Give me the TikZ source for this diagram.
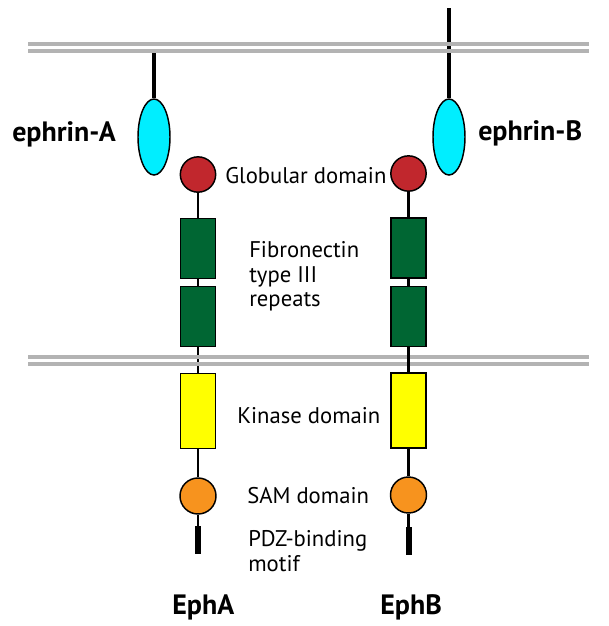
\documentclass[tikz,border=0pt]{standalone}
\usepackage{fontspec}
\setmainfont{PT Sans}
\usetikzlibrary{shapes.geometric}
\definecolor{memgray}{RGB}{179,179,179}
\definecolor{ephcyan}{RGB}{0,238,255}
\definecolor{globred}{RGB}{193,39,45}
\definecolor{fngreen}{RGB}{0,102,51}
\definecolor{kinyellow}{RGB}{255,255,0}
\definecolor{samorange}{RGB}{247,147,30}
\tikzset{
  shapeline/.style={draw=black, line width=1.1pt},
  ephrinshape/.style={shapeline, ellipse, fill=ephcyan, minimum width=24pt, minimum height=57pt, inner sep=0pt},
  globshape/.style={shapeline, circle, fill=globred, minimum size=26.5pt, inner sep=0pt},
  fnbox/.style={shapeline, rectangle, fill=fngreen, minimum width=26.25pt, minimum height=45pt, inner sep=0pt},
  kinbox/.style={shapeline, rectangle, fill=kinyellow, minimum width=26.25pt, minimum height=56.25pt, inner sep=0pt},
  samshape/.style={shapeline, circle, fill=samorange, minimum size=27pt, inner sep=0pt},
  pdzbar/.style={rectangle, fill=black, minimum width=4.5pt, minimum height=21pt, inner sep=0pt},
  link/.style={draw=black, line width=1.7pt},
  stalk/.style={draw=black, line width=3pt},
  membrane/.style={draw=memgray, line width=3pt},
  lbl/.style={anchor=base west, inner sep=0pt, font=\fontsize{17}{20}\selectfont},
  blbl/.style={anchor=base west, inner sep=0pt, font=\fontsize{21}{25}\selectfont\bfseries},
}
\begin{document}
\begin{tikzpicture}[x=0.75pt,y=-0.75pt]
\useasboundingbox (0,0) rectangle (609,626);
% shapes, EphA
\node[globshape] (gA) at (198,174.5) {};
\node[fnbox] (fA1) at (198,248.5) {};
\node[fnbox] (fA2) at (198,316.5) {};
\node[kinbox] (kA) at (198,411) {};
\node[samshape] (sA) at (198,496) {};
\node[pdzbar] (pA) at (198,540) {};
% shapes, EphB
\node[globshape] (gB) at (408.5,173.5) {};
\node[fnbox] (fB1) at (408.5,248) {};
\node[fnbox] (fB2) at (408.5,316.5) {};
\node[kinbox] (kB) at (408.5,410.5) {};
\node[samshape] (sB) at (408.5,495) {};
\node[pdzbar] (pB) at (408.5,541) {};
% ephrins
\node[ephrinshape] (eA) at (154,137) {};
\node[ephrinshape] (eB) at (449,137) {};
\coordinate (eAtop) at (154,53);
\coordinate (eBtop) at (449,8);
% connectors under the membranes
\draw[stalk] (eBtop) -- (eB.north);
\draw[stalk] (eAtop) -- (eA.north);
\draw[link] (fA2.south) -- (kA.north);
% membranes
\coordinate (m1a) at (28,44); \coordinate (m1b) at (589,44);
\coordinate (m2a) at (28,51); \coordinate (m2b) at (589,51);
\coordinate (m3a) at (28,357); \coordinate (m3b) at (589,357);
\coordinate (m4a) at (28,364); \coordinate (m4b) at (589,364);
\draw[membrane] (m1a) -- (m1b);
\draw[membrane] (m2a) -- (m2b);
\draw[membrane] (m3a) -- (m3b);
\draw[membrane] (m4a) -- (m4b);
% other connectors
\draw[link] (gA.south) -- (fA1.north);
\draw[link] (fA1.south) -- (fA2.north);
\draw[link] (kA.south) -- (sA.north);
\draw[link] (sA.south) -- (pA.north);
\draw[link] (gB.south) -- (fB1.north);
\draw[link] (fB1.south) -- (fB2.north);
\draw[link] (fB2.south) -- (kB.north);
\draw[link] (kB.south) -- (sB.north);
\draw[link] (sB.south) -- (pB.north);
% labels
\node[blbl] (tEA) at (12,141) {ephrin-A};
\node[blbl] (tEB) at (478,140) {ephrin-B};
\node[lbl] (tG) at (225,183) {Globular domain};
\node[lbl] (tF1) at (249,257) {Fibronectin};
\node[lbl] (tF2) at (249,282) {type III};
\node[lbl] (tF3) at (249,306) {repeats};
\node[lbl] (tK) at (237,423) {Kinase domain};
\node[lbl] (tS) at (247,503) {SAM domain};
\node[lbl] (tP1) at (248,546) {PDZ-binding};
\node[lbl] (tP2) at (248,571) {motif};
\node[blbl] (tA) at (172,614) {EphA};
\node[blbl] (tB) at (380,614) {EphB};
\end{tikzpicture}
\end{document}
